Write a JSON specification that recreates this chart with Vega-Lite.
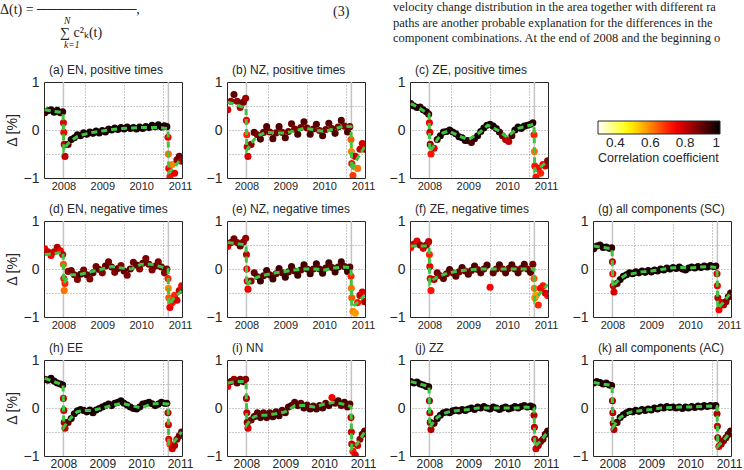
{
"$schema": "https://vega.github.io/schema/vega-lite/v6.json",
"background": "white",
"padding": 0,
"config": {
 "font": "Liberation Sans",
 "view": {"stroke": "#262626", "strokeWidth": 1},
 "axis": {"domain": false, "ticks": false, "grid": false, "labelOverlap": false, "labelColor": "#262626", "titleColor": "#262626", "gridColor": "#7a7a7a", "gridDash": [1, 2], "gridWidth": 0.8, "labelPadding": 3},
 "axisY": {"labelFontSize": 14, "labelPadding": 5, "titleFontSize": 14, "titleFontWeight": "normal", "titlePadding": 4},
 "axisX": {"labelFontSize": 11, "labelPadding": 2},
 "title": {"anchor": "start", "frame": "group", "fontSize": 12, "fontWeight": "normal", "offset": -2, "dx": 5, "color": "#262626"},
 "legend": {"direction": "horizontal", "gradientLength": 122, "gradientThickness": 13, "labelFontSize": 13.5, "labelColor": "#262626", "labelAlign": "center", "labelOffset": 3, "titleFontSize": 12.5, "titleFontWeight": "normal", "titleColor": "#262626", "titleOrient": "bottom", "titleAnchor": "start", "titlePadding": 2, "gradientStrokeColor": "#262626", "gradientStrokeWidth": 1, "padding": 0}
},
"datasets": {
 "ev": [{"t": 2008.0}, {"t": 2010.7}],
 "pts": [
{"t":2007.52,"a":0.36,"b":0.42,"c":0.55,"d":0.42,"e":0.47,"f":0.45,"g":0.42,"h":0.6,"i":0.45,"j":0.55,"k":0.52,"ca":0.93,"cb":0.78,"cc":0.95,"cd":0.76,"ce":0.76,"cf":0.74,"cg":0.94,"ch":0.95,"ci":0.75,"cj":0.96,"ck":0.96},
{"t":2007.6,"a":0.4,"b":0.6,"c":0.5,"d":0.36,"e":0.55,"f":0.52,"g":0.48,"h":0.58,"i":0.55,"j":0.52,"k":0.55,"ca":0.97,"cb":0.85,"cc":0.97,"cd":0.8,"ce":0.85,"cf":0.8,"cg":0.97,"ch":0.97,"ci":0.88,"cj":0.97,"ck":0.97},
{"t":2007.68,"a":0.42,"b":0.74,"c":0.47,"d":0.28,"e":0.63,"f":0.58,"g":0.5,"h":0.62,"i":0.6,"j":0.54,"k":0.53,"ca":0.96,"cb":0.9,"cc":0.98,"cd":0.74,"ce":0.88,"cf":0.76,"cg":0.96,"ch":0.98,"ci":0.85,"cj":0.98,"ck":0.98},
{"t":2007.76,"a":0.37,"b":0.6,"c":0.48,"d":0.36,"e":0.55,"f":0.5,"g":0.45,"h":0.56,"i":0.52,"j":0.5,"k":0.5,"ca":0.98,"cb":0.86,"cc":0.96,"cd":0.78,"ce":0.86,"cf":0.85,"cg":0.98,"ch":0.96,"ci":0.9,"cj":0.97,"ck":0.97},
{"t":2007.84,"a":0.41,"b":0.47,"c":0.42,"d":0.45,"e":0.48,"f":0.43,"g":0.46,"h":0.52,"i":0.6,"j":0.48,"k":0.52,"ca":0.97,"cb":0.82,"cc":0.98,"cd":0.82,"ce":0.9,"cf":0.78,"cg":0.97,"ch":0.98,"ci":0.88,"cj":0.98,"ck":0.98},
{"t":2007.92,"a":0.36,"b":0.58,"c":0.38,"d":0.38,"e":0.56,"f":0.5,"g":0.43,"h":0.5,"i":0.55,"j":0.45,"k":0.48,"ca":0.96,"cb":0.88,"cc":0.97,"cd":0.76,"ce":0.87,"cf":0.86,"cg":0.96,"ch":0.97,"ci":0.9,"cj":0.97,"ck":0.97},
{"t":2007.98,"a":0.38,"b":0.66,"c":0.33,"d":0.3,"e":0.64,"f":0.57,"g":0.44,"h":0.48,"i":0.6,"j":0.44,"k":0.47,"ca":0.94,"cb":0.84,"cc":0.94,"cd":0.8,"ce":0.85,"cf":0.8,"cg":0.95,"ch":0.96,"ci":0.86,"cj":0.96,"ck":0.96},
{"t":2008.0,"a":0.15,"b":0.2,"c":0.15,"d":0.1,"e":0.3,"f":0.3,"g":0.15,"h":0.2,"i":0.2,"j":0.15,"k":0.15,"ca":0.76,"cb":0.75,"cc":0.75,"cd":0.65,"ce":0.8,"cf":0.7,"cg":0.78,"ch":0.8,"ci":0.82,"cj":0.82,"ck":0.82},
{"t":2008.01,"a":-0.05,"b":-0.1,"c":-0.05,"d":-0.2,"e":0,"f":0.05,"g":-0.1,"h":-0.05,"i":-0.1,"j":-0.1,"k":-0.1,"ca":0.74,"cb":0.7,"cc":0.78,"cd":0.72,"ce":0.75,"cf":0.76,"cg":0.75,"ch":0.78,"ci":0.8,"cj":0.8,"ck":0.8},
{"t":2008.02,"a":-0.3,"b":-0.35,"c":-0.3,"d":-0.45,"e":-0.25,"f":-0.2,"g":-0.35,"h":-0.3,"i":-0.3,"j":-0.3,"k":-0.32,"ca":0.8,"cb":0.8,"cc":0.85,"cd":0.62,"ce":0.78,"cf":0.75,"cg":0.8,"ch":0.82,"ci":0.85,"cj":0.85,"ck":0.84},
{"t":2008.04,"a":-0.55,"b":-0.55,"c":-0.5,"d":-0.3,"e":-0.42,"f":-0.45,"g":-0.48,"h":-0.42,"i":-0.42,"j":-0.45,"k":-0.45,"ca":0.8,"cb":0.78,"cc":0.72,"cd":0.7,"ce":0.76,"cf":0.72,"cg":0.78,"ch":0.8,"ci":0.78,"cj":0.82,"ck":0.82},
{"t":2008.12,"a":-0.3,"b":-0.3,"c":-0.38,"d":-0.05,"e":-0.25,"f":-0.22,"g":-0.3,"h":-0.3,"i":-0.25,"j":-0.32,"k":-0.3,"ca":0.9,"cb":0.85,"cc":0.78,"cd":0.84,"ce":0.86,"cf":0.82,"cg":0.9,"ch":0.9,"ci":0.88,"cj":0.92,"ck":0.92},
{"t":2008.2,"a":-0.2,"b":-0.05,"c":-0.2,"d":-0.03,"e":-0.08,"f":-0.08,"g":-0.22,"h":-0.22,"i":-0.18,"j":-0.22,"k":-0.2,"ca":0.96,"cb":0.9,"cc":0.95,"cd":0.88,"ce":0.9,"cf":0.88,"cg":0.97,"ch":0.97,"ci":0.92,"cj":0.97,"ck":0.97},
{"t":2008.28,"a":-0.16,"b":-0.1,"c":-0.12,"d":-0.12,"e":-0.16,"f":-0.14,"g":-0.15,"h":-0.12,"i":-0.1,"j":-0.15,"k":-0.14,"ca":0.98,"cb":0.87,"cc":0.97,"cd":0.9,"ce":0.92,"cf":0.86,"cg":0.98,"ch":0.96,"ci":0.9,"cj":0.98,"ck":0.98},
{"t":2008.36,"a":-0.1,"b":-0.19,"c":-0.04,"d":-0.22,"e":-0.25,"f":-0.2,"g":-0.12,"h":-0.06,"i":-0.2,"j":-0.1,"k":-0.1,"ca":0.98,"cb":0.92,"cc":0.98,"cd":0.86,"ce":0.94,"cf":0.9,"cg":0.98,"ch":0.98,"ci":0.93,"cj":0.97,"ck":0.97},
{"t":2008.44,"a":-0.12,"b":-0.05,"c":-0.03,"d":-0.11,"e":-0.14,"f":-0.1,"g":-0.08,"h":-0.03,"i":-0.1,"j":-0.08,"k":-0.07,"ca":0.97,"cb":0.88,"cc":0.98,"cd":0.92,"ce":0.9,"cf":0.88,"cg":0.97,"ch":0.98,"ci":0.9,"cj":0.98,"ck":0.98},
{"t":2008.52,"a":-0.06,"b":0.07,"c":0,"d":-0.02,"e":-0.03,"f":-0.01,"g":-0.1,"h":-0.05,"i":-0.2,"j":-0.1,"k":-0.08,"ca":0.98,"cb":0.91,"cc":0.97,"cd":0.88,"ce":0.93,"cf":0.92,"cg":0.98,"ch":0.97,"ci":0.92,"cj":0.97,"ck":0.97},
{"t":2008.6,"a":-0.09,"b":-0.04,"c":-0.04,"d":-0.12,"e":-0.12,"f":-0.08,"g":-0.06,"h":-0.08,"i":-0.1,"j":-0.06,"k":-0.05,"ca":0.98,"cb":0.87,"cc":0.98,"cd":0.9,"ce":0.9,"cf":0.87,"cg":0.98,"ch":0.98,"ci":0.9,"cj":0.98,"ck":0.98},
{"t":2008.68,"a":-0.04,"b":-0.18,"c":-0.08,"d":-0.21,"e":-0.21,"f":-0.15,"g":-0.08,"h":-0.04,"i":-0.18,"j":-0.04,"k":-0.07,"ca":0.97,"cb":0.92,"cc":0.97,"cd":0.87,"ce":0.94,"cf":0.91,"cg":0.97,"ch":0.98,"ci":0.93,"cj":0.97,"ck":0.97},
{"t":2008.76,"a":-0.07,"b":-0.06,"c":-0.14,"d":-0.08,"e":-0.1,"f":-0.06,"g":-0.04,"h":-0.1,"i":-0.08,"j":-0.06,"k":-0.03,"ca":0.98,"cb":0.88,"cc":0.98,"cd":0.91,"ce":0.9,"cf":0.88,"cg":0.98,"ch":0.97,"ci":0.91,"cj":0.98,"ck":0.98},
{"t":2008.84,"a":-0.02,"b":0.07,"c":-0.16,"d":0.05,"e":0.01,"f":0.03,"g":-0.07,"h":-0.04,"i":-0.16,"j":-0.03,"k":-0.05,"ca":0.98,"cb":0.91,"cc":0.98,"cd":0.88,"ce":0.93,"cf":0.92,"cg":0.98,"ch":0.98,"ci":0.93,"cj":0.97,"ck":0.97},
{"t":2008.92,"a":-0.06,"b":-0.05,"c":-0.22,"d":-0.01,"e":-0.08,"f":-0.04,"g":-0.03,"h":-0.01,"i":-0.05,"j":-0.05,"k":-0.02,"ca":0.97,"cb":0.86,"cc":0.97,"cd":0.9,"ce":0.9,"cf":0.87,"cg":0.97,"ch":0.98,"ci":0.9,"cj":0.98,"ck":0.98},
{"t":2009.0,"a":-0.01,"b":-0.16,"c":-0.22,"d":-0.08,"e":-0.17,"f":-0.11,"g":-0.06,"h":0.02,"i":-0.1,"j":-0.02,"k":-0.04,"ca":0.98,"cb":0.92,"cc":0.96,"cd":0.86,"ce":0.94,"cf":0.91,"cg":0.98,"ch":0.97,"ci":0.92,"cj":0.97,"ck":0.97},
{"t":2009.08,"a":-0.04,"b":-0.03,"c":-0.26,"d":0.06,"e":-0.06,"f":-0.03,"g":-0.02,"h":0.05,"i":0.02,"j":0,"k":0,"ca":0.98,"cb":0.88,"cc":0.92,"cd":0.9,"ce":0.9,"cf":0.88,"cg":0.98,"ch":0.98,"ci":0.91,"cj":0.98,"ck":0.98},
{"t":2009.16,"a":0.02,"b":0.13,"c":-0.18,"d":0.15,"e":0.05,"f":0.06,"g":-0.04,"h":0.08,"i":0.05,"j":-0.03,"k":-0.02,"ca":0.97,"cb":0.9,"cc":0.95,"cd":0.88,"ce":0.93,"cf":0.92,"cg":0.97,"ch":0.98,"ci":0.93,"cj":0.97,"ck":0.97},
{"t":2009.24,"a":0,"b":0.02,"c":-0.12,"d":0.04,"e":-0.04,"f":-0.01,"g":0,"h":0.05,"i":0.12,"j":0.02,"k":0.02,"ca":0.98,"cb":0.87,"cc":0.97,"cd":0.91,"ce":0.91,"cf":0.87,"cg":0.98,"ch":0.97,"ci":0.9,"cj":0.98,"ck":0.98},
{"t":2009.32,"a":0.04,"b":-0.09,"c":-0.03,"d":-0.07,"e":-0.13,"f":-0.08,"g":-0.02,"h":0.1,"i":0.05,"j":0,"k":0,"ca":0.98,"cb":0.92,"cc":0.98,"cd":0.87,"ce":0.94,"cf":0.91,"cg":0.98,"ch":0.98,"ci":0.92,"cj":0.97,"ck":0.97},
{"t":2009.4,"a":0.01,"b":0.05,"c":0.04,"d":0.01,"e":-0.02,"f":0,"g":0.02,"h":0.12,"i":0.1,"j":0.03,"k":0.03,"ca":0.97,"cb":0.88,"cc":0.98,"cd":0.9,"ce":0.9,"cf":0.88,"cg":0.97,"ch":0.98,"ci":0.9,"cj":0.98,"ck":0.98},
{"t":2009.48,"a":0.05,"b":0.17,"c":0.1,"d":0.07,"e":0.09,"f":0.08,"g":0,"h":0.15,"i":0,"j":0,"k":0.01,"ca":0.98,"cb":0.91,"cc":0.98,"cd":0.86,"ce":0.93,"cf":0.92,"cg":0.98,"ch":0.98,"ci":0.93,"cj":0.97,"ck":0.97},
{"t":2009.56,"a":0.02,"b":0.04,"c":0.12,"d":-0.04,"e":0,"f":-0.38,"g":0.03,"h":0.1,"i":0.06,"j":-0.02,"k":0.02,"ca":0.98,"cb":0.87,"cc":0.97,"cd":0.9,"ce":0.91,"cf":0.74,"cg":0.98,"ch":0.97,"ci":0.91,"cj":0.98,"ck":0.98},
{"t":2009.64,"a":0.06,"b":-0.09,"c":0.08,"d":-0.13,"e":-0.1,"f":-0.08,"g":0.01,"h":0.06,"i":-0.02,"j":0.02,"k":0,"ca":0.97,"cb":0.92,"cc":0.98,"cd":0.87,"ce":0.94,"cf":0.9,"cg":0.97,"ch":0.98,"ci":0.92,"cj":0.97,"ck":0.97},
{"t":2009.72,"a":0.03,"b":0.02,"c":0.03,"d":0,"e":0,"f":0,"g":0.04,"h":0.02,"i":0.04,"j":0,"k":0.02,"ca":0.98,"cb":0.88,"cc":0.97,"cd":0.91,"ce":0.9,"cf":0.88,"cg":0.98,"ch":0.98,"ci":0.9,"cj":0.98,"ck":0.98},
{"t":2009.8,"a":0.05,"b":0.12,"c":-0.04,"d":0.14,"e":0.11,"f":0.09,"g":0,"h":-0.01,"i":-0.02,"j":-0.03,"k":-0.01,"ca":0.98,"cb":0.91,"cc":0.95,"cd":0.88,"ce":0.93,"cf":0.92,"cg":0.98,"ch":0.97,"ci":0.93,"cj":0.97,"ck":0.97},
{"t":2009.88,"a":0.02,"b":-0.01,"c":-0.12,"d":0.08,"e":0,"f":0,"g":-0.02,"h":-0.02,"i":0.05,"j":0,"k":0.02,"ca":0.97,"cb":0.87,"cc":0.9,"cd":0.9,"ce":0.9,"cf":0.87,"cg":0.97,"ch":0.98,"ci":0.91,"cj":0.98,"ck":0.98},
{"t":2009.96,"a":0.06,"b":-0.12,"c":-0.2,"d":0,"e":-0.09,"f":-0.08,"g":0.02,"h":0.02,"i":0,"j":0.02,"k":0,"ca":0.98,"cb":0.92,"cc":0.82,"cd":0.86,"ce":0.94,"cf":0.91,"cg":0.98,"ch":0.98,"ci":0.92,"cj":0.97,"ck":0.97},
{"t":2010.04,"a":0.03,"b":0.01,"c":-0.24,"d":0.12,"e":0.02,"f":0.01,"g":0.04,"h":0.08,"i":0.1,"j":-0.02,"k":0.03,"ca":0.98,"cb":0.88,"cc":0.8,"cd":0.9,"ce":0.9,"cf":0.88,"cg":0.98,"ch":0.97,"ci":0.9,"cj":0.98,"ck":0.98},
{"t":2010.12,"a":0.07,"b":0.14,"c":-0.12,"d":0.22,"e":0.13,"f":0.09,"g":0.02,"h":0.1,"i":0.05,"j":0,"k":0.01,"ca":0.97,"cb":0.91,"cc":0.92,"cd":0.87,"ce":0.93,"cf":0.92,"cg":0.97,"ch":0.98,"ci":0.93,"cj":0.97,"ck":0.97},
{"t":2010.2,"a":0.05,"b":0.03,"c":0,"d":0.1,"e":0.03,"f":0,"g":0.05,"h":0.12,"i":0.22,"j":0.03,"k":0.04,"ca":0.98,"cb":0.87,"cc":0.97,"cd":0.9,"ce":0.91,"cf":0.88,"cg":0.98,"ch":0.98,"ci":0.75,"cj":0.98,"ck":0.98},
{"t":2010.28,"a":0.1,"b":-0.07,"c":0.06,"d":-0.02,"e":-0.06,"f":-0.08,"g":0.03,"h":0.09,"i":0.1,"j":0,"k":0.02,"ca":0.98,"cb":0.92,"cc":0.98,"cd":0.86,"ce":0.94,"cf":0.91,"cg":0.98,"ch":0.97,"ci":0.9,"cj":0.97,"ck":0.97},
{"t":2010.36,"a":0.07,"b":0.06,"c":0.03,"d":0.06,"e":0.04,"f":0.01,"g":0.06,"h":0.05,"i":0.15,"j":0.03,"k":0.05,"ca":0.97,"cb":0.88,"cc":0.97,"cd":0.9,"ce":0.9,"cf":0.88,"cg":0.97,"ch":0.98,"ci":0.92,"cj":0.98,"ck":0.98},
{"t":2010.44,"a":0.11,"b":0.2,"c":0.08,"d":0.15,"e":0.15,"f":0.1,"g":0.04,"h":0.08,"i":0.05,"j":0.05,"k":0.03,"ca":0.98,"cb":0.91,"cc":0.98,"cd":0.87,"ce":0.93,"cf":0.92,"cg":0.98,"ch":0.98,"ci":0.9,"cj":0.97,"ck":0.97},
{"t":2010.52,"a":0.06,"b":0.08,"c":0.1,"d":0.04,"e":0.05,"f":0,"g":0.07,"h":0.12,"i":0.12,"j":0.02,"k":0.05,"ca":0.98,"cb":0.87,"cc":0.97,"cd":0.9,"ce":0.91,"cf":0.87,"cg":0.98,"ch":0.97,"ci":0.93,"cj":0.98,"ck":0.98},
{"t":2010.6,"a":0.09,"b":-0.04,"c":0.12,"d":-0.08,"e":-0.05,"f":-0.07,"g":0.05,"h":0.1,"i":0.02,"j":0.04,"k":0.04,"ca":0.97,"cb":0.92,"cc":0.98,"cd":0.86,"ce":0.94,"cf":0.91,"cg":0.97,"ch":0.98,"ci":0.91,"cj":0.97,"ck":0.97},
{"t":2010.66,"a":0.07,"b":0.07,"c":0.15,"d":0,"e":0.04,"f":0.1,"g":0.06,"h":0.1,"i":0.08,"j":0.02,"k":0.05,"ca":0.96,"cb":0.88,"cc":0.96,"cd":0.88,"ce":0.9,"cf":0.88,"cg":0.96,"ch":0.97,"ci":0.9,"cj":0.97,"ck":0.97},
{"t":2010.69,"a":-0.15,"b":-0.2,"c":-0.1,"d":-0.2,"e":-0.15,"f":-0.2,"g":-0.1,"h":-0.1,"i":-0.2,"j":-0.15,"k":-0.12,"ca":0.75,"cb":0.65,"cc":0.7,"cd":0.7,"ce":0.7,"cf":0.65,"cg":0.78,"ch":0.8,"ci":0.8,"cj":0.82,"ck":0.82},
{"t":2010.7,"a":-0.5,"b":-0.45,"c":-0.45,"d":-0.4,"e":-0.4,"f":-0.4,"g":-0.35,"h":-0.35,"i":-0.5,"j":-0.4,"k":-0.38,"ca":0.62,"cb":0.6,"cc":0.62,"cd":0.6,"ce":0.62,"cf":0.62,"cg":0.75,"ch":0.78,"ci":0.78,"cj":0.8,"ck":0.8},
{"t":2010.71,"a":-0.8,"b":-0.7,"c":-0.75,"d":-0.6,"e":-0.6,"f":-0.6,"g":-0.6,"h":-0.65,"i":-0.75,"j":-0.65,"k":-0.62,"ca":0.74,"cb":0.72,"cc":0.72,"cd":0.65,"ce":0.65,"cf":0.6,"cg":0.8,"ch":0.76,"ci":0.8,"cj":0.82,"ck":0.82},
{"t":2010.74,"a":-0.97,"b":-0.95,"c":-0.98,"d":-0.8,"e":-0.88,"f":-0.55,"g":-0.85,"h":-0.75,"i":-0.9,"j":-0.85,"k":-0.8,"ca":0.72,"cb":0.68,"cc":0.72,"cd":0.75,"ce":0.6,"cf":0.58,"cg":0.74,"ch":0.72,"ci":0.72,"cj":0.78,"ck":0.78},
{"t":2010.8,"a":-0.72,"b":-0.55,"c":-0.8,"d":-0.7,"e":-0.92,"f":-0.75,"g":-0.7,"h":-0.85,"i":-0.98,"j":-0.78,"k":-0.75,"ca":0.6,"cb":0.8,"cc":0.74,"cd":0.72,"ce":0.58,"cf":0.7,"cg":0.78,"ch":0.78,"ci":0.76,"cj":0.82,"ck":0.82},
{"t":2010.86,"a":-0.9,"b":-0.8,"c":-0.9,"d":-0.55,"e":-0.7,"f":-0.4,"g":-0.75,"h":-0.78,"i":-0.78,"j":-0.7,"k":-0.68,"ca":0.76,"cb":0.62,"cc":0.7,"cd":0.7,"ce":0.72,"cf":0.75,"cg":0.8,"ch":0.82,"ci":0.78,"cj":0.86,"ck":0.86},
{"t":2010.92,"a":-0.62,"b":-0.4,"c":-0.72,"d":-0.65,"e":-0.55,"f":-0.35,"g":-0.68,"h":-0.65,"i":-0.65,"j":-0.65,"k":-0.62,"ca":0.85,"cb":0.8,"cc":0.75,"cd":0.78,"ce":0.8,"cf":0.72,"cg":0.85,"ch":0.86,"ci":0.85,"cj":0.88,"ck":0.88},
{"t":2010.98,"a":-0.55,"b":-0.28,"c":-0.75,"d":-0.45,"e":-0.48,"f":-0.5,"g":-0.58,"h":-0.58,"i":-0.55,"j":-0.55,"k":-0.55,"ca":0.88,"cb":0.78,"cc":0.8,"cd":0.8,"ce":0.78,"cf":0.78,"cg":0.9,"ch":0.88,"ci":0.88,"cj":0.9,"ck":0.9},
{"t":2011.04,"a":-0.65,"b":-0.4,"c":-0.64,"d":-0.35,"e":-0.68,"f":-0.55,"g":-0.5,"h":-0.5,"i":-0.48,"j":-0.48,"k":-0.48,"ca":0.82,"cb":0.82,"cc":0.85,"cd":0.75,"ce":0.82,"cf":0.74,"cg":0.92,"ch":0.9,"ci":0.9,"cj":0.92,"ck":0.92}
 ],
 "fit": [
{"t":2007.52,"a":0.42,"b":0.58,"c":0.55,"d":0.3,"e":0.55,"f":0.48,"g":0.48,"h":0.62,"i":0.52,"j":0.55,"k":0.53},
{"t":2007.75,"a":0.39,"b":0.52,"c":0.45,"d":0.32,"e":0.53,"f":0.48,"g":0.45,"h":0.55,"i":0.55,"j":0.5,"k":0.5},
{"t":2007.99,"a":0.36,"b":0.45,"c":0.33,"d":0.35,"e":0.5,"f":0.48,"g":0.42,"h":0.48,"i":0.55,"j":0.45,"k":0.47},
{"t":2008.01,"a":-0.42,"b":-0.42,"c":-0.45,"d":-0.3,"e":-0.35,"f":-0.3,"g":-0.38,"h":-0.4,"i":-0.35,"j":-0.4,"k":-0.4},
{"t":2008.1,"a":-0.3,"b":-0.3,"c":-0.35,"d":-0.18,"e":-0.25,"f":-0.22,"g":-0.28,"h":-0.3,"i":-0.25,"j":-0.3,"k":-0.3},
{"t":2008.2,"a":-0.22,"b":-0.2,"c":-0.2,"d":-0.12,"e":-0.2,"f":-0.17,"g":-0.2,"h":-0.2,"i":-0.18,"j":-0.2,"k":-0.2},
{"t":2008.35,"a":-0.14,"b":-0.1,"c":-0.06,"d":-0.12,"e":-0.15,"f":-0.12,"g":-0.12,"h":-0.08,"i":-0.15,"j":-0.12,"k":-0.12},
{"t":2008.5,"a":-0.1,"b":-0.05,"c":-0.02,"d":-0.1,"e":-0.12,"f":-0.08,"g":-0.1,"h":-0.05,"i":-0.15,"j":-0.08,"k":-0.08},
{"t":2008.75,"a":-0.05,"b":-0.06,"c":-0.12,"d":-0.05,"e":-0.08,"f":-0.04,"g":-0.06,"h":-0.05,"i":-0.12,"j":-0.05,"k":-0.05},
{"t":2009.0,"a":-0.02,"b":-0.06,"c":-0.2,"d":0,"e":-0.05,"f":-0.02,"g":-0.04,"h":0,"i":-0.08,"j":-0.03,"k":-0.03},
{"t":2009.25,"a":0.01,"b":-0.02,"c":-0.08,"d":0.05,"e":-0.02,"f":0,"g":-0.01,"h":0.05,"i":0.05,"j":0,"k":0},
{"t":2009.5,"a":0.03,"b":0.04,"c":0.1,"d":0.02,"e":0,"f":0,"g":0.02,"h":0.1,"i":0.05,"j":0,"k":0.01},
{"t":2009.75,"a":0.04,"b":0,"c":0,"d":0,"e":0,"f":0,"g":0.03,"h":0.05,"i":0.02,"j":0,"k":0.02},
{"t":2010.0,"a":0.05,"b":-0.03,"c":-0.15,"d":0.1,"e":-0.02,"f":0,"g":0.02,"h":0,"i":0.08,"j":0,"k":0.02},
{"t":2010.25,"a":0.05,"b":0.02,"c":0.03,"d":0.1,"e":0.02,"f":0,"g":0.04,"h":0.08,"i":0.12,"j":0,"k":0.03},
{"t":2010.5,"a":0.05,"b":0.08,"c":0.08,"d":0.05,"e":0.04,"f":0,"g":0.05,"h":0.1,"i":0.08,"j":0.02,"k":0.04},
{"t":2010.69,"a":0.03,"b":0.07,"c":0.12,"d":0,"e":0.03,"f":0,"g":0.03,"h":0.08,"i":0.03,"j":0,"k":0.03},
{"t":2010.71,"a":-0.88,"b":-0.85,"c":-0.85,"d":-0.75,"e":-0.8,"f":-0.65,"g":-0.82,"h":-0.75,"i":-0.85,"j":-0.8,"k":-0.8},
{"t":2010.85,"a":-0.78,"b":-0.6,"c":-0.78,"d":-0.6,"e":-0.7,"f":-0.5,"g":-0.7,"h":-0.7,"i":-0.75,"j":-0.7,"k":-0.68},
{"t":2011.04,"a":-0.58,"b":-0.35,"c":-0.65,"d":-0.45,"e":-0.55,"f":-0.32,"g":-0.5,"h":-0.5,"i":-0.5,"j":-0.5,"k":-0.5}
 ]
},
"vconcat": [
 {
  "hconcat": [
   {"width": 16, "height": 1, "view": {"stroke": null}, "data": {"values": []}, "mark": "point",
    "title": {"text": "Δ(t) = ──────────,", "orient": "bottom", "anchor": "start", "frame": "group", "dx": -44, "dy": 0, "offset": 2, "font": "Liberation Serif", "fontSize": 14, "fontWeight": "normal", "color": "#222222"}},
   {"width": 2, "height": 1, "view": {"stroke": null}, "data": {"values": []}, "mark": "point",
    "title": {"text": "∑ c²ₖ(t)", "orient": "bottom", "anchor": "start", "frame": "group", "dx": 0, "dy": 0, "offset": 25, "font": "Liberation Serif", "fontSize": 14, "fontWeight": "normal", "color": "#222222"}},
   {"width": 271, "height": 1, "view": {"stroke": null}, "data": {"values": []}, "mark": "point",
    "title": {"text": ["N", "k=1"], "orient": "bottom", "anchor": "start", "frame": "group", "dx": 2, "dy": 0, "offset": 15, "lineHeight": 24, "font": "Liberation Serif", "fontSize": 9.5, "fontStyle": "italic", "fontWeight": "normal", "color": "#222222"}},
   {"width": 60, "height": 1, "view": {"stroke": null}, "data": {"values": []}, "mark": "point",
    "title": {"text": "(3)", "orient": "bottom", "anchor": "start", "frame": "group", "dx": 0, "dy": 0, "offset": 4, "font": "Liberation Serif", "fontSize": 14, "fontWeight": "normal", "color": "#222222"}},
   {"width": 200, "height": 1, "view": {"stroke": null}, "data": {"values": []}, "mark": "point",
    "title": {"text": ["velocity change distribution in the area together with different ra", "paths are another probable explanation for the differences in the", "component combinations. At the end of 2008 and the beginning o"], "orient": "bottom", "anchor": "start", "frame": "group", "dx": 0, "dy": 0, "offset": 0, "font": "Liberation Serif", "fontSize": 12.5, "fontWeight": "normal", "lineHeight": 15.5, "color": "#222222"}}
  ],
  "spacing": 0,
  "bounds": "flush"
 },
 {
  "columns": 4,
  "spacing": {"row": 43, "column": 45},
  "bounds": "flush",
  "concat": [
   {"width":138,"height":96,"title":"(a) EN, positive times","layer":[
    {"data":{"name":"ev"},"mark":{"type":"rule","color":"#c4c4c4","strokeWidth":1.5},"encoding":{"x":{"field":"t","type":"quantitative","scale":{"domain":[2007.5,2011.05],"nice":false,"zero":false},"axis":{"orient":"top","values":[2008.55,2009.55,2010.55],"grid":true,"labels":false,"title":null}}}},
    {"data":{"name":"pts"},"mark":{"type":"circle","size":50,"opacity":1,"clip":true},"encoding":{"x":{"field":"t","type":"quantitative","scale":{"domain":[2007.5,2011.05],"nice":false,"zero":false},"axis":{"values":[2008,2009,2010,2011],"format":"d","title":null,"labelFontSize":11}},"y":{"field":"a","type":"quantitative","scale":{"domain":[-1,1],"nice":false},"axis":{"values":[-1,0,1],"format":".0f","labelOverlap":false,"labelFlush":false,"title":"Δ [%]"}},"color":{"field":"ca","type":"quantitative","scale":{"domain":[0.3,0.475,0.7375,1],"range":["#ffffff","#ffff00","#ff0000","#000000"],"interpolate":"rgb"},"legend":{"orient":"none","direction":"horizontal","legendX":554,"legendY":121,"title":"Correlation coefficient","values":[0.4,0.6,0.8,1],"format":".1~f"}}}},
    {"data":{"name":"fit"},"mark":{"type":"line","color":"#3ec43e","strokeWidth":3,"strokeDash":[6,4],"clip":true},"encoding":{"x":{"field":"t","type":"quantitative","scale":{"domain":[2007.5,2011.05],"nice":false,"zero":false},"axis":null},"y":{"field":"a","type":"quantitative","scale":{"domain":[-1,1],"nice":false},"axis":{"orient":"right","values":[-0.5,0,0.5],"grid":true,"labels":false,"title":null}}}}
   ],"resolve":{"axis":{"x":"independent","y":"independent"}}},
   {"width":138,"height":96,"title":"(b) NZ, positive times","layer":[
    {"data":{"name":"ev"},"mark":{"type":"rule","color":"#c4c4c4","strokeWidth":1.5},"encoding":{"x":{"field":"t","type":"quantitative","scale":{"domain":[2007.5,2011.05],"nice":false,"zero":false},"axis":{"orient":"top","values":[2008.55,2009.55,2010.55],"grid":true,"labels":false,"title":null}}}},
    {"data":{"name":"pts"},"mark":{"type":"circle","size":50,"opacity":1,"clip":true},"encoding":{"x":{"field":"t","type":"quantitative","scale":{"domain":[2007.5,2011.05],"nice":false,"zero":false},"axis":{"values":[2008,2009,2010,2011],"format":"d","title":null,"labelFontSize":11}},"y":{"field":"b","type":"quantitative","scale":{"domain":[-1,1],"nice":false},"axis":{"values":[-1,0,1],"format":".0f","labelOverlap":false,"labelFlush":false,"title":null}},"color":{"field":"cb","type":"quantitative","scale":{"domain":[0.3,0.475,0.7375,1],"range":["#ffffff","#ffff00","#ff0000","#000000"],"interpolate":"rgb"},"legend":{"orient":"none","direction":"horizontal","legendX":554,"legendY":121,"title":"Correlation coefficient","values":[0.4,0.6,0.8,1],"format":".1~f"}}}},
    {"data":{"name":"fit"},"mark":{"type":"line","color":"#3ec43e","strokeWidth":3,"strokeDash":[6,4],"clip":true},"encoding":{"x":{"field":"t","type":"quantitative","scale":{"domain":[2007.5,2011.05],"nice":false,"zero":false},"axis":null},"y":{"field":"b","type":"quantitative","scale":{"domain":[-1,1],"nice":false},"axis":{"orient":"right","values":[-0.5,0,0.5],"grid":true,"labels":false,"title":null}}}}
   ],"resolve":{"axis":{"x":"independent","y":"independent"}}},
   {"width":138,"height":96,"title":"(c) ZE, positive times","layer":[
    {"data":{"name":"ev"},"mark":{"type":"rule","color":"#c4c4c4","strokeWidth":1.5},"encoding":{"x":{"field":"t","type":"quantitative","scale":{"domain":[2007.5,2011.05],"nice":false,"zero":false},"axis":{"orient":"top","values":[2008.55,2009.55,2010.55],"grid":true,"labels":false,"title":null}}}},
    {"data":{"name":"pts"},"mark":{"type":"circle","size":50,"opacity":1,"clip":true},"encoding":{"x":{"field":"t","type":"quantitative","scale":{"domain":[2007.5,2011.05],"nice":false,"zero":false},"axis":{"values":[2008,2009,2010,2011],"format":"d","title":null,"labelFontSize":11}},"y":{"field":"c","type":"quantitative","scale":{"domain":[-1,1],"nice":false},"axis":{"values":[-1,0,1],"format":".0f","labelOverlap":false,"labelFlush":false,"title":null}},"color":{"field":"cc","type":"quantitative","scale":{"domain":[0.3,0.475,0.7375,1],"range":["#ffffff","#ffff00","#ff0000","#000000"],"interpolate":"rgb"},"legend":{"orient":"none","direction":"horizontal","legendX":554,"legendY":121,"title":"Correlation coefficient","values":[0.4,0.6,0.8,1],"format":".1~f"}}}},
    {"data":{"name":"fit"},"mark":{"type":"line","color":"#3ec43e","strokeWidth":3,"strokeDash":[6,4],"clip":true},"encoding":{"x":{"field":"t","type":"quantitative","scale":{"domain":[2007.5,2011.05],"nice":false,"zero":false},"axis":null},"y":{"field":"c","type":"quantitative","scale":{"domain":[-1,1],"nice":false},"axis":{"orient":"right","values":[-0.5,0,0.5],"grid":true,"labels":false,"title":null}}}}
   ],"resolve":{"axis":{"x":"independent","y":"independent"}}},
   {"width":138,"height":96,"view":{"stroke":null},"data":{"values":[]},"mark":"point"},
   {"width":138,"height":96,"title":"(d) EN, negative times","layer":[
    {"data":{"name":"ev"},"mark":{"type":"rule","color":"#c4c4c4","strokeWidth":1.5},"encoding":{"x":{"field":"t","type":"quantitative","scale":{"domain":[2007.5,2011.05],"nice":false,"zero":false},"axis":{"orient":"top","values":[2008.55,2009.55,2010.55],"grid":true,"labels":false,"title":null}}}},
    {"data":{"name":"pts"},"mark":{"type":"circle","size":50,"opacity":1,"clip":true},"encoding":{"x":{"field":"t","type":"quantitative","scale":{"domain":[2007.5,2011.05],"nice":false,"zero":false},"axis":{"values":[2008,2009,2010,2011],"format":"d","title":null,"labelFontSize":11}},"y":{"field":"d","type":"quantitative","scale":{"domain":[-1,1],"nice":false},"axis":{"values":[-1,0,1],"format":".0f","labelOverlap":false,"labelFlush":false,"title":"Δ [%]"}},"color":{"field":"cd","type":"quantitative","scale":{"domain":[0.3,0.475,0.7375,1],"range":["#ffffff","#ffff00","#ff0000","#000000"],"interpolate":"rgb"},"legend":{"orient":"none","direction":"horizontal","legendX":554,"legendY":121,"title":"Correlation coefficient","values":[0.4,0.6,0.8,1],"format":".1~f"}}}},
    {"data":{"name":"fit"},"mark":{"type":"line","color":"#3ec43e","strokeWidth":3,"strokeDash":[6,4],"clip":true},"encoding":{"x":{"field":"t","type":"quantitative","scale":{"domain":[2007.5,2011.05],"nice":false,"zero":false},"axis":null},"y":{"field":"d","type":"quantitative","scale":{"domain":[-1,1],"nice":false},"axis":{"orient":"right","values":[-0.5,0,0.5],"grid":true,"labels":false,"title":null}}}}
   ],"resolve":{"axis":{"x":"independent","y":"independent"}}},
   {"width":138,"height":96,"title":"(e) NZ, negative times","layer":[
    {"data":{"name":"ev"},"mark":{"type":"rule","color":"#c4c4c4","strokeWidth":1.5},"encoding":{"x":{"field":"t","type":"quantitative","scale":{"domain":[2007.5,2011.05],"nice":false,"zero":false},"axis":{"orient":"top","values":[2008.55,2009.55,2010.55],"grid":true,"labels":false,"title":null}}}},
    {"data":{"name":"pts"},"mark":{"type":"circle","size":50,"opacity":1,"clip":true},"encoding":{"x":{"field":"t","type":"quantitative","scale":{"domain":[2007.5,2011.05],"nice":false,"zero":false},"axis":{"values":[2008,2009,2010,2011],"format":"d","title":null,"labelFontSize":11}},"y":{"field":"e","type":"quantitative","scale":{"domain":[-1,1],"nice":false},"axis":{"values":[-1,0,1],"format":".0f","labelOverlap":false,"labelFlush":false,"title":null}},"color":{"field":"ce","type":"quantitative","scale":{"domain":[0.3,0.475,0.7375,1],"range":["#ffffff","#ffff00","#ff0000","#000000"],"interpolate":"rgb"},"legend":{"orient":"none","direction":"horizontal","legendX":554,"legendY":121,"title":"Correlation coefficient","values":[0.4,0.6,0.8,1],"format":".1~f"}}}},
    {"data":{"name":"fit"},"mark":{"type":"line","color":"#3ec43e","strokeWidth":3,"strokeDash":[6,4],"clip":true},"encoding":{"x":{"field":"t","type":"quantitative","scale":{"domain":[2007.5,2011.05],"nice":false,"zero":false},"axis":null},"y":{"field":"e","type":"quantitative","scale":{"domain":[-1,1],"nice":false},"axis":{"orient":"right","values":[-0.5,0,0.5],"grid":true,"labels":false,"title":null}}}}
   ],"resolve":{"axis":{"x":"independent","y":"independent"}}},
   {"width":138,"height":96,"title":"(f) ZE, negative times","layer":[
    {"data":{"name":"ev"},"mark":{"type":"rule","color":"#c4c4c4","strokeWidth":1.5},"encoding":{"x":{"field":"t","type":"quantitative","scale":{"domain":[2007.5,2011.05],"nice":false,"zero":false},"axis":{"orient":"top","values":[2008.55,2009.55,2010.55],"grid":true,"labels":false,"title":null}}}},
    {"data":{"name":"pts"},"mark":{"type":"circle","size":50,"opacity":1,"clip":true},"encoding":{"x":{"field":"t","type":"quantitative","scale":{"domain":[2007.5,2011.05],"nice":false,"zero":false},"axis":{"values":[2008,2009,2010,2011],"format":"d","title":null,"labelFontSize":11}},"y":{"field":"f","type":"quantitative","scale":{"domain":[-1,1],"nice":false},"axis":{"values":[-1,0,1],"format":".0f","labelOverlap":false,"labelFlush":false,"title":null}},"color":{"field":"cf","type":"quantitative","scale":{"domain":[0.3,0.475,0.7375,1],"range":["#ffffff","#ffff00","#ff0000","#000000"],"interpolate":"rgb"},"legend":{"orient":"none","direction":"horizontal","legendX":554,"legendY":121,"title":"Correlation coefficient","values":[0.4,0.6,0.8,1],"format":".1~f"}}}},
    {"data":{"name":"fit"},"mark":{"type":"line","color":"#3ec43e","strokeWidth":3,"strokeDash":[6,4],"clip":true},"encoding":{"x":{"field":"t","type":"quantitative","scale":{"domain":[2007.5,2011.05],"nice":false,"zero":false},"axis":null},"y":{"field":"f","type":"quantitative","scale":{"domain":[-1,1],"nice":false},"axis":{"orient":"right","values":[-0.5,0,0.5],"grid":true,"labels":false,"title":null}}}}
   ],"resolve":{"axis":{"x":"independent","y":"independent"}}},
   {"width":138,"height":96,"title":"(g) all components (SC)","layer":[
    {"data":{"name":"ev"},"mark":{"type":"rule","color":"#c4c4c4","strokeWidth":1.5},"encoding":{"x":{"field":"t","type":"quantitative","scale":{"domain":[2007.5,2011.05],"nice":false,"zero":false},"axis":{"orient":"top","values":[2008.55,2009.55,2010.55],"grid":true,"labels":false,"title":null}}}},
    {"data":{"name":"pts"},"mark":{"type":"circle","size":50,"opacity":1,"clip":true},"encoding":{"x":{"field":"t","type":"quantitative","scale":{"domain":[2007.5,2011.05],"nice":false,"zero":false},"axis":{"values":[2008,2009,2010,2011],"format":"d","title":null,"labelFontSize":11}},"y":{"field":"g","type":"quantitative","scale":{"domain":[-1,1],"nice":false},"axis":{"values":[-1,0,1],"format":".0f","labelOverlap":false,"labelFlush":false,"title":null}},"color":{"field":"cg","type":"quantitative","scale":{"domain":[0.3,0.475,0.7375,1],"range":["#ffffff","#ffff00","#ff0000","#000000"],"interpolate":"rgb"},"legend":{"orient":"none","direction":"horizontal","legendX":554,"legendY":121,"title":"Correlation coefficient","values":[0.4,0.6,0.8,1],"format":".1~f"}}}},
    {"data":{"name":"fit"},"mark":{"type":"line","color":"#3ec43e","strokeWidth":3,"strokeDash":[6,4],"clip":true},"encoding":{"x":{"field":"t","type":"quantitative","scale":{"domain":[2007.5,2011.05],"nice":false,"zero":false},"axis":null},"y":{"field":"g","type":"quantitative","scale":{"domain":[-1,1],"nice":false},"axis":{"orient":"right","values":[-0.5,0,0.5],"grid":true,"labels":false,"title":null}}}}
   ],"resolve":{"axis":{"x":"independent","y":"independent"}}},
   {"width":138,"height":96,"title":"(h) EE","layer":[
    {"data":{"name":"ev"},"mark":{"type":"rule","color":"#c4c4c4","strokeWidth":1.5},"encoding":{"x":{"field":"t","type":"quantitative","scale":{"domain":[2007.5,2011.05],"nice":false,"zero":false},"axis":{"orient":"top","values":[2008.55,2009.55,2010.55],"grid":true,"labels":false,"title":null}}}},
    {"data":{"name":"pts"},"mark":{"type":"circle","size":50,"opacity":1,"clip":true},"encoding":{"x":{"field":"t","type":"quantitative","scale":{"domain":[2007.5,2011.05],"nice":false,"zero":false},"axis":{"values":[2008,2009,2010,2011],"format":"d","title":null,"labelFontSize":12}},"y":{"field":"h","type":"quantitative","scale":{"domain":[-1,1],"nice":false},"axis":{"values":[-1,0,1],"format":".0f","labelOverlap":false,"labelFlush":false,"title":"Δ [%]"}},"color":{"field":"ch","type":"quantitative","scale":{"domain":[0.3,0.475,0.7375,1],"range":["#ffffff","#ffff00","#ff0000","#000000"],"interpolate":"rgb"},"legend":{"orient":"none","direction":"horizontal","legendX":554,"legendY":121,"title":"Correlation coefficient","values":[0.4,0.6,0.8,1],"format":".1~f"}}}},
    {"data":{"name":"fit"},"mark":{"type":"line","color":"#3ec43e","strokeWidth":3,"strokeDash":[6,4],"clip":true},"encoding":{"x":{"field":"t","type":"quantitative","scale":{"domain":[2007.5,2011.05],"nice":false,"zero":false},"axis":null},"y":{"field":"h","type":"quantitative","scale":{"domain":[-1,1],"nice":false},"axis":{"orient":"right","values":[-0.5,0,0.5],"grid":true,"labels":false,"title":null}}}}
   ],"resolve":{"axis":{"x":"independent","y":"independent"}}},
   {"width":138,"height":96,"title":"(i) NN","layer":[
    {"data":{"name":"ev"},"mark":{"type":"rule","color":"#c4c4c4","strokeWidth":1.5},"encoding":{"x":{"field":"t","type":"quantitative","scale":{"domain":[2007.5,2011.05],"nice":false,"zero":false},"axis":{"orient":"top","values":[2008.55,2009.55,2010.55],"grid":true,"labels":false,"title":null}}}},
    {"data":{"name":"pts"},"mark":{"type":"circle","size":50,"opacity":1,"clip":true},"encoding":{"x":{"field":"t","type":"quantitative","scale":{"domain":[2007.5,2011.05],"nice":false,"zero":false},"axis":{"values":[2008,2009,2010,2011],"format":"d","title":null,"labelFontSize":12}},"y":{"field":"i","type":"quantitative","scale":{"domain":[-1,1],"nice":false},"axis":{"values":[-1,0,1],"format":".0f","labelOverlap":false,"labelFlush":false,"title":null}},"color":{"field":"ci","type":"quantitative","scale":{"domain":[0.3,0.475,0.7375,1],"range":["#ffffff","#ffff00","#ff0000","#000000"],"interpolate":"rgb"},"legend":{"orient":"none","direction":"horizontal","legendX":554,"legendY":121,"title":"Correlation coefficient","values":[0.4,0.6,0.8,1],"format":".1~f"}}}},
    {"data":{"name":"fit"},"mark":{"type":"line","color":"#3ec43e","strokeWidth":3,"strokeDash":[6,4],"clip":true},"encoding":{"x":{"field":"t","type":"quantitative","scale":{"domain":[2007.5,2011.05],"nice":false,"zero":false},"axis":null},"y":{"field":"i","type":"quantitative","scale":{"domain":[-1,1],"nice":false},"axis":{"orient":"right","values":[-0.5,0,0.5],"grid":true,"labels":false,"title":null}}}}
   ],"resolve":{"axis":{"x":"independent","y":"independent"}}},
   {"width":138,"height":96,"title":"(j) ZZ","layer":[
    {"data":{"name":"ev"},"mark":{"type":"rule","color":"#c4c4c4","strokeWidth":1.5},"encoding":{"x":{"field":"t","type":"quantitative","scale":{"domain":[2007.5,2011.05],"nice":false,"zero":false},"axis":{"orient":"top","values":[2008.55,2009.55,2010.55],"grid":true,"labels":false,"title":null}}}},
    {"data":{"name":"pts"},"mark":{"type":"circle","size":50,"opacity":1,"clip":true},"encoding":{"x":{"field":"t","type":"quantitative","scale":{"domain":[2007.5,2011.05],"nice":false,"zero":false},"axis":{"values":[2008,2009,2010,2011],"format":"d","title":null,"labelFontSize":12}},"y":{"field":"j","type":"quantitative","scale":{"domain":[-1,1],"nice":false},"axis":{"values":[-1,0,1],"format":".0f","labelOverlap":false,"labelFlush":false,"title":null}},"color":{"field":"cj","type":"quantitative","scale":{"domain":[0.3,0.475,0.7375,1],"range":["#ffffff","#ffff00","#ff0000","#000000"],"interpolate":"rgb"},"legend":{"orient":"none","direction":"horizontal","legendX":554,"legendY":121,"title":"Correlation coefficient","values":[0.4,0.6,0.8,1],"format":".1~f"}}}},
    {"data":{"name":"fit"},"mark":{"type":"line","color":"#3ec43e","strokeWidth":3,"strokeDash":[6,4],"clip":true},"encoding":{"x":{"field":"t","type":"quantitative","scale":{"domain":[2007.5,2011.05],"nice":false,"zero":false},"axis":null},"y":{"field":"j","type":"quantitative","scale":{"domain":[-1,1],"nice":false},"axis":{"orient":"right","values":[-0.5,0,0.5],"grid":true,"labels":false,"title":null}}}}
   ],"resolve":{"axis":{"x":"independent","y":"independent"}}},
   {"width":138,"height":96,"title":"(k) all components (AC)","layer":[
    {"data":{"name":"ev"},"mark":{"type":"rule","color":"#c4c4c4","strokeWidth":1.5},"encoding":{"x":{"field":"t","type":"quantitative","scale":{"domain":[2007.5,2011.05],"nice":false,"zero":false},"axis":{"orient":"top","values":[2008.55,2009.55,2010.55],"grid":true,"labels":false,"title":null}}}},
    {"data":{"name":"pts"},"mark":{"type":"circle","size":50,"opacity":1,"clip":true},"encoding":{"x":{"field":"t","type":"quantitative","scale":{"domain":[2007.5,2011.05],"nice":false,"zero":false},"axis":{"values":[2008,2009,2010,2011],"format":"d","title":null,"labelFontSize":12}},"y":{"field":"k","type":"quantitative","scale":{"domain":[-1,1],"nice":false},"axis":{"values":[-1,0,1],"format":".0f","labelOverlap":false,"labelFlush":false,"title":null}},"color":{"field":"ck","type":"quantitative","scale":{"domain":[0.3,0.475,0.7375,1],"range":["#ffffff","#ffff00","#ff0000","#000000"],"interpolate":"rgb"},"legend":{"orient":"none","direction":"horizontal","legendX":554,"legendY":121,"title":"Correlation coefficient","values":[0.4,0.6,0.8,1],"format":".1~f"}}}},
    {"data":{"name":"fit"},"mark":{"type":"line","color":"#3ec43e","strokeWidth":3,"strokeDash":[6,4],"clip":true},"encoding":{"x":{"field":"t","type":"quantitative","scale":{"domain":[2007.5,2011.05],"nice":false,"zero":false},"axis":null},"y":{"field":"k","type":"quantitative","scale":{"domain":[-1,1],"nice":false},"axis":{"orient":"right","values":[-0.5,0,0.5],"grid":true,"labels":false,"title":null}}}}
   ],"resolve":{"axis":{"x":"independent","y":"independent"}}}
  ]
 }
],
"spacing": 82,
"bounds": "flush"
}
